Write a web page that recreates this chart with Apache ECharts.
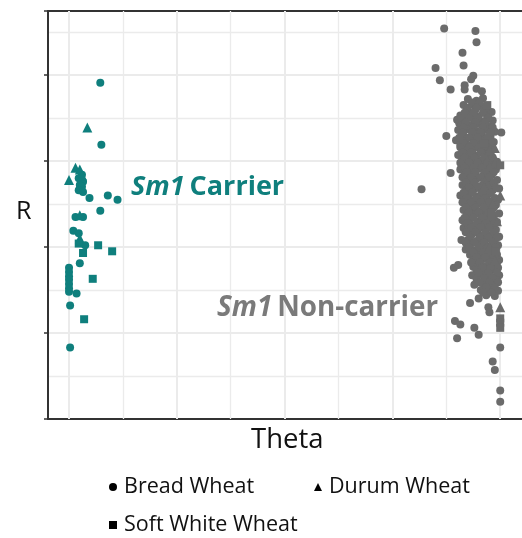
<!DOCTYPE html>
<html><head><meta charset="utf-8">
<script src="https://cdn.jsdelivr.net/npm/echarts@6/dist/echarts.min.js"></script>
<style>html,body{margin:0;padding:0;background:#fff}#c{width:522px;height:538px}</style>
</head><body><div id="c"></div>
<script>
// ---- data (Theta, R) ----
const legendLabels = ['Bread Wheat', 'Durum Wheat', 'Soft White Wheat'];
const xMajorTicks = [0, 1, 2, 3, 4];
const xMinorTicks = [0.5, 1.5, 2.5, 3.5];

const tealBread = [[0.29,3.91],[0.30,3.19],[0.12,2.84],[0.09,2.80],[0.13,2.76],[0.10,2.72],[0.12,2.70],[0.09,2.66],[0.13,2.64],
  [0.19,2.57],[0.36,2.60],[0.45,2.55],[0.29,2.42],[0.06,2.35],[0.13,2.35],[0.04,2.19],[0.09,2.16],[0.15,2.02],[0.10,1.81],
  [0.00,1.76],[0.00,1.71],[0.00,1.66],[0.00,1.62],[0.00,1.57],[0.00,1.52],[0.00,1.48],[0.07,1.46],[0.01,1.32],[0.01,0.83]];
const tealDurum = [[0.17,3.39],[0.06,2.92],[0.10,2.90],[0.00,2.78],[0.12,2.83],[0.10,2.37],[0.10,2.10]];
const tealSoft = [[0.09,2.04],[0.27,2.02],[0.13,1.93],[0.40,1.95],[0.22,1.63],[0.14,1.16]];

const grayBread = [
  [3.48,4.54],[3.77,4.51],[3.78,4.38],[3.65,4.26],[3.40,4.08],[3.66,4.11],[3.44,3.94],[3.75,3.99],[3.73,3.95],[3.54,3.83],
  [3.67,3.88],[3.67,3.83],[3.78,3.84],[3.83,3.81],[3.86,3.56],[3.62,3.44],[3.50,3.29],[4.01,3.33],[3.54,2.86],[3.64,2.92],[3.27,2.67],
  [3.70,3.72],[3.78,3.70],[3.84,3.73],
  [3.66,3.65],[3.74,3.66],[3.82,3.64],
  [3.69,3.59],[3.77,3.60],[3.86,3.58],[3.92,3.57],
  [3.63,3.53],[3.71,3.54],[3.80,3.52],[3.88,3.51],
  [3.60,3.48],[3.67,3.47],[3.75,3.49],[3.84,3.46],[3.93,3.47],
  [3.64,3.42],[3.72,3.41],[3.81,3.43],[3.90,3.40],
  [3.61,3.36],[3.70,3.37],[3.78,3.35],[3.87,3.36],[3.95,3.34],
  [3.66,3.30],[3.74,3.31],[3.83,3.29],[3.91,3.28],
  [3.59,3.24],[3.68,3.25],[3.76,3.23],[3.85,3.24],[3.94,3.22],
  [3.63,3.19],[3.71,3.18],[3.80,3.20],[3.89,3.17],
  [3.67,3.13],[3.75,3.14],[3.84,3.12],[3.92,3.13],
  [3.61,3.07],[3.69,3.08],[3.78,3.06],[3.87,3.07],
  [3.65,3.01],[3.73,3.02],[3.82,3.00],[3.90,3.01],[3.97,2.99],
  [3.69,2.95],[3.77,2.96],[3.86,2.94],[3.94,2.95],
  [3.63,2.90],[3.71,2.89],[3.80,2.91],[3.88,2.88],[3.96,2.90],
  [3.67,2.84],[3.75,2.85],[3.84,2.83],[3.92,2.84],
  [3.70,2.78],[3.78,2.79],[3.87,2.77],[3.97,2.78],
  [3.65,2.72],[3.73,2.73],[3.82,2.71],[3.90,2.72],
  [3.68,2.66],[3.76,2.67],[3.85,2.65],[3.93,2.66],[3.99,2.68],
  [3.63,2.60],[3.71,2.61],[3.80,2.59],[3.88,2.60],
  [3.67,2.55],[3.75,2.54],[3.84,2.56],[3.92,2.53],[3.98,2.55],
  [3.70,2.49],[3.79,2.50],[3.87,2.48],[3.96,2.49],
  [3.66,2.43],[3.74,2.44],[3.83,2.42],[3.91,2.43],
  [3.69,2.37],[3.77,2.38],[3.86,2.36],[3.94,2.37],[3.99,2.39],
  [3.65,2.31],[3.72,2.32],[3.81,2.30],[3.89,2.31],[3.97,2.29],
  [3.68,2.26],[3.76,2.25],[3.84,2.27],[3.93,2.26],
  [3.66,2.22],[3.70,2.20],[3.79,2.19],[3.87,2.21],[3.96,2.20],
  [3.73,2.14],[3.74,2.15],[3.83,2.13],[3.91,2.14],[3.99,2.12],
  [3.64,2.08],[3.70,2.08],[3.78,2.07],[3.87,2.09],[3.95,2.08],
  [3.72,2.02],[3.81,2.03],[3.89,2.01],[3.98,2.02],
  [3.68,1.97],[3.76,1.96],[3.85,1.98],[3.93,1.97],
  [3.72,1.91],[3.80,1.92],[3.88,1.90],[3.97,1.91],
  [3.75,1.85],[3.84,1.86],[3.92,1.84],[3.99,1.85],
  [3.57,1.76],[3.61,1.79],[3.75,1.77],[3.79,1.80],[3.87,1.78],[3.96,1.79],
  [3.78,1.73],[3.86,1.72],[3.94,1.74],
  [3.74,1.67],[3.83,1.68],[3.91,1.66],[3.99,1.67],
  [3.78,1.63],[3.88,1.61],[3.96,1.62],
  [3.76,1.56],[3.85,1.57],[3.93,1.55],
  [3.82,1.50],[3.90,1.51],[3.98,1.49],
  [3.87,1.44],[3.95,1.43],
  [3.72,1.35],[3.80,1.40],[3.89,1.30],[3.90,1.24],[3.58,1.14],[3.63,1.10],[3.76,1.06],[3.80,0.98],[3.60,0.94],
  [4.00,0.83],[3.93,0.67],[3.95,0.57],[4.00,0.33],[4.00,0.20],
  [3.74,3.68],[3.81,3.68],[3.70,3.62],[3.78,3.62],[3.87,3.62],[3.67,3.56],[3.75,3.56],[3.84,3.56],
  [3.64,3.50],[3.71,3.50],[3.79,3.50],[3.89,3.50],[3.68,3.45],[3.77,3.45],[3.86,3.45],
  [3.66,3.39],[3.75,3.39],[3.84,3.39],[3.93,3.39],[3.65,3.33],[3.74,3.33],[3.82,3.33],[3.91,3.33],
  [3.62,3.27],[3.71,3.27],[3.79,3.27],[3.88,3.27],[3.66,3.21],[3.75,3.21],[3.84,3.21],[3.92,3.21],
  [3.63,3.16],[3.71,3.16],[3.80,3.16],[3.88,3.16],[3.65,3.10],[3.73,3.10],[3.82,3.10],[3.90,3.10],
  [3.67,3.04],[3.76,3.04],[3.85,3.04],[3.93,3.04],[3.63,2.98],[3.71,2.98],[3.79,2.98],[3.88,2.98],
  [3.67,2.92],[3.75,2.92],[3.83,2.92],[3.91,2.92],[3.69,2.87],[3.77,2.87],[3.86,2.87],[3.94,2.87],
  [3.65,2.81],[3.73,2.81],[3.82,2.81],[3.90,2.81],[3.68,2.75],[3.76,2.75],[3.85,2.75],[3.94,2.75],
  [3.71,2.69],[3.80,2.69],[3.88,2.69],[3.96,2.69],[3.66,2.63],[3.74,2.63],[3.83,2.63],[3.91,2.63],
  [3.69,2.57],[3.78,2.57],[3.86,2.57],[3.95,2.57],[3.65,2.52],[3.73,2.52],[3.82,2.52],[3.90,2.52],
  [3.68,2.46],[3.77,2.46],[3.85,2.46],[3.94,2.46],[3.71,2.40],[3.80,2.40],[3.89,2.40],
  [3.67,2.34],[3.75,2.34],[3.83,2.34],[3.92,2.34],[3.70,2.28],[3.79,2.28],[3.87,2.28],[3.95,2.28],
  [3.73,2.23],[3.82,2.23],[3.90,2.23],[3.68,2.17],[3.77,2.17],[3.86,2.17],[3.94,2.17],
  [3.72,2.11],[3.81,2.11],[3.89,2.11],[3.97,2.11],[3.68,2.05],[3.76,2.05],[3.85,2.05],[3.93,2.05],
  [3.71,1.99],[3.80,1.99],[3.88,1.99],[3.96,1.99],[3.75,1.94],[3.84,1.94],[3.92,1.94],
  [3.78,1.88],[3.86,1.88],[3.95,1.88],[3.73,1.82],[3.81,1.82],[3.90,1.82],[3.97,1.82],
  [3.83,1.76],[3.91,1.76],[3.98,1.76],[3.80,1.70],[3.89,1.70],[3.97,1.70],[3.85,1.64],[3.93,1.64],
  [3.81,1.59],[3.90,1.59],[3.98,1.59],[3.87,1.53],[3.95,1.53],[3.84,1.47],[3.92,1.47]];
const grayDurum = [[3.95,3.15],[3.94,3.05],[3.90,3.12],[3.96,3.00],[4.00,2.60],[3.93,2.50],[3.97,2.30],[3.90,2.00],[3.95,1.85],[4.00,1.30],[3.85,2.70]];
const graySoft = [[3.88,3.65],[4.00,2.95],[4.00,1.17],[4.00,1.12],[4.00,1.06],[3.92,2.40],[3.96,1.95],[3.85,3.20]];

// ---- styling ----
const TEAL = '#0f7f7d', GRAY = '#6b6b6b';
const FONT = '"Open Sans", "Noto Sans", sans-serif';
const gridColor = '#ebebeb';
const frame = {show: true, onZero: false, lineStyle: {color: '#333', width: 2}};

const chart = echarts.init(document.getElementById('c'), null, {renderer: 'canvas'});

function sc(name, data, color, symbol, size) {
  return {type: 'scatter', name, data, symbol, symbolSize: size, z: 3,
    itemStyle: {color, opacity: 1}, emphasis: {disabled: true}, animation: false};
}

const vLines = xMajorTicks.map(v => ({xAxis: v, lineStyle: {width: 2}}))
  .concat(xMinorTicks.map(v => ({xAxis: v, lineStyle: {width: 1.3}})));

const legendItem = (name, icon) => ({name, icon, itemStyle: {color: '#000'}});
const legendBase = {orient: 'horizontal', itemWidth: 8, itemHeight: 8, itemGap: 10, selectedMode: false,
  textStyle: {fontFamily: FONT, fontSize: 21.5, color: '#111', padding: [0, 0, 0, 2]}};

chart.setOption({
  animation: false,
  grid: {left: 48, top: 11, right: -2, bottom: 119},
  xAxis: [
    {type: 'value', position: 'bottom', min: -0.195, max: 4.202, axisLabel: {show: false}, axisTick: {show: false},
      axisLine: frame, splitLine: {show: false}},
    {type: 'value', position: 'top', min: -0.195, max: 4.202, axisLabel: {show: false}, axisTick: {show: false},
      axisLine: frame, splitLine: {show: false}}
  ],
  yAxis: {type: 'value', min: 0, max: 4.744, interval: 1, axisLabel: {show: false},
    axisTick: {show: true, length: 4, lineStyle: {color: '#333', width: 1.5}},
    axisLine: frame,
    splitLine: {show: true, lineStyle: {color: gridColor, width: 2}},
    minorTick: {show: false, splitNumber: 2},
    minorSplitLine: {show: true, lineStyle: {color: gridColor, width: 1.3}}},
  legend: [
    Object.assign({}, legendBase, {left: 104, top: 471, data: [legendItem(legendLabels[0], 'circle')]}),
    Object.assign({}, legendBase, {left: 309, top: 471, data: [legendItem(legendLabels[1], 'triangle')]}),
    Object.assign({}, legendBase, {left: 104, top: 509, data: [legendItem(legendLabels[2], 'rect')]})
  ],
  title: [
    {text: 'R', left: 11, top: 194, textStyle: {fontFamily: FONT, fontSize: 25, fontWeight: 'normal', color: '#111'}},
    {text: 'Theta', left: 246, top: 421, textStyle: {fontFamily: FONT, fontSize: 27.5, fontWeight: 'normal', color: '#111'}},
    {text: '{i|Sm1} {b|Carrier}', left: 126, top: 169, textStyle: {rich: {
      i: {fontFamily: FONT, fontSize: 27, fontWeight: 'bold', fontStyle: 'italic', color: TEAL},
      b: {fontFamily: FONT, fontSize: 27, fontWeight: 'bold', color: TEAL}}}},
    {text: '{i|Sm1} {b|Non-carrier}', left: 212, top: 289, textStyle: {rich: {
      i: {fontFamily: FONT, fontSize: 27.8, fontWeight: 'bold', fontStyle: 'italic', color: '#7a7a7a'},
      b: {fontFamily: FONT, fontSize: 27.8, fontWeight: 'bold', color: '#7a7a7a'}}}}
  ],
  series: [
    {type: 'scatter', name: 'grid', data: [], z: 1, silent: true,
      markLine: {z: 1, silent: true, symbol: ['none', 'none'], label: {show: false}, animation: false,
        lineStyle: {color: gridColor, type: 'solid'}, emphasis: {disabled: true}, data: vLines}},
    sc(legendLabels[0], grayBread, GRAY, 'circle', 8),
    sc(legendLabels[1], grayDurum, GRAY, 'triangle', 10),
    sc(legendLabels[2], graySoft, GRAY, 'rect', 8),
    sc(legendLabels[0], tealBread, TEAL, 'circle', 8),
    sc(legendLabels[1], tealDurum, TEAL, 'triangle', 10),
    sc(legendLabels[2], tealSoft, TEAL, 'rect', 8)
  ]
});
</script></body></html>
